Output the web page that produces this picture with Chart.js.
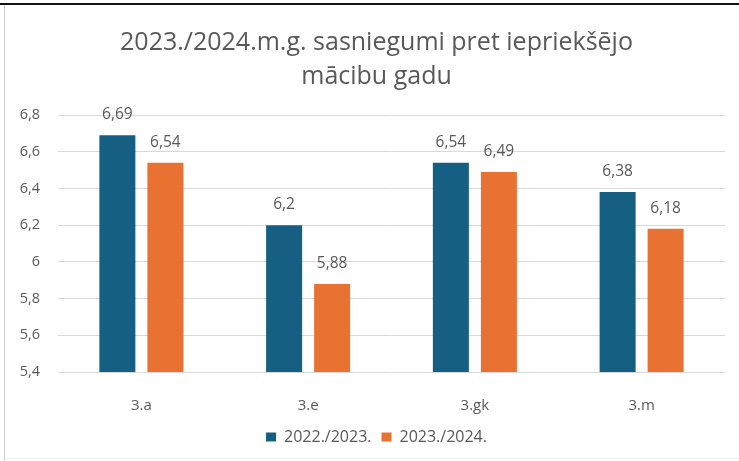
<!DOCTYPE html>
<html>
<head>
<meta charset="utf-8">
<script src="https://cdn.jsdelivr.net/npm/chart.js@4/dist/chart.umd.min.js"></script>
<style>
  html, body { margin: 0; padding: 0; background: #fff; }
  #wrap { position: relative; width: 739px; height: 461px; overflow: hidden; }
  #c { position: absolute; left: 0; top: 0; }
  .topline { position: absolute; left: 0; top: 3px; width: 739px; height: 2px; background: #111; }
  .leftline { position: absolute; left: 4px; top: 5px; width: 1px; height: 456px; background: #cfcfcf; }
  .bottomline { position: absolute; left: 5px; top: 458px; width: 734px; height: 1px; background: #f0f0f0; }
</style>
</head>
<body>
<div id="wrap">
  <canvas id="c" width="739" height="461"></canvas>
  <div class="topline"></div>
  <div class="leftline"></div>
  <div class="bottomline"></div>
</div>
<script>
const categories = ["3.a", "3.e", "3.gk", "3.m"];
const seriesNames = ["2022./2023.", "2023./2024."];
const values2022 = [6.69, 6.2, 6.54, 6.38];
const values2023 = [6.54, 5.88, 6.49, 6.18];
const titleLines = ["2023./2024.m.g. sasniegumi pret iepriekšējo", "mācibu gadu"];
const yMin = 5.4, yMax = 6.8, yStep = 0.2;

const fmt = v => String(Math.round(v * 100) / 100).replace('.', ',');
const FONT = "'Open Sans', 'Noto Sans', sans-serif";
const TXT = '#595959';

const valueLabels = {
  id: 'valueLabels',
  afterDatasetsDraw(chart) {
    const ctx = chart.ctx;
    ctx.save();
    ctx.font = "15.5px " + FONT;
    ctx.fillStyle = TXT;
    ctx.textAlign = 'center';
    ctx.textBaseline = 'middle';
    chart.data.datasets.forEach((ds, di) => {
      const meta = chart.getDatasetMeta(di);
      meta.data.forEach((el, i) => {
        ctx.fillText(fmt(ds.data[i]), el.x, el.y - 20.5);
      });
    });
    ctx.restore();
  }
};

// centre title and legend over the same span as the reference
const shiftBlocks = {
  id: 'shiftBlocks',
  afterLayout(chart) {
    [chart.titleBlock, chart.legend].forEach(b => {
      if (b) { b.left += 9; b.right += 9; }
    });
  }
};

new Chart(document.getElementById('c'), {
  type: 'bar',
  data: {
    labels: categories,
    datasets: [
      { label: seriesNames[0], data: values2022, backgroundColor: '#156082',
        categoryPercentage: 0.576, barPercentage: 0.75 },
      { label: seriesNames[1], data: values2023, backgroundColor: '#E97132',
        categoryPercentage: 0.576, barPercentage: 0.75 }
    ]
  },
  options: {
    responsive: false,
    animation: false,
    layout: { padding: { left: 10, right: 14, top: 0, bottom: 6 } },
    plugins: {
      title: {
        display: true,
        text: titleLines,
        color: TXT,
        font: { family: FONT, size: 25, weight: 'normal', lineHeight: 1.36 },
        padding: { top: 26, bottom: 21 }
      },
      legend: {
        position: 'bottom',
        labels: {
          color: TXT,
          font: { family: FONT, size: 16 },
          boxWidth: 10, boxHeight: 9,
          padding: 10
        }
      },
      tooltip: { enabled: false }
    },
    scales: {
      x: {
        afterFit: s => { s.height = 47; },
        grid: { display: false },
        border: { display: false },
        ticks: { color: TXT, font: { family: FONT, size: 15 }, padding: 17 }
      },
      y: {
        min: yMin, max: yMax,
        afterFit: s => { s.width = 48; },
        grid: { color: '#d9d9d9', drawTicks: false },
        border: { display: false },
        ticks: {
          stepSize: yStep,
          color: TXT,
          font: { family: FONT, size: 14.5 },
          padding: 18,
          callback: v => fmt(Math.round(v * 10) / 10)
        }
      }
    }
  },
  plugins: [valueLabels, shiftBlocks]
});
</script>
</body>
</html>
